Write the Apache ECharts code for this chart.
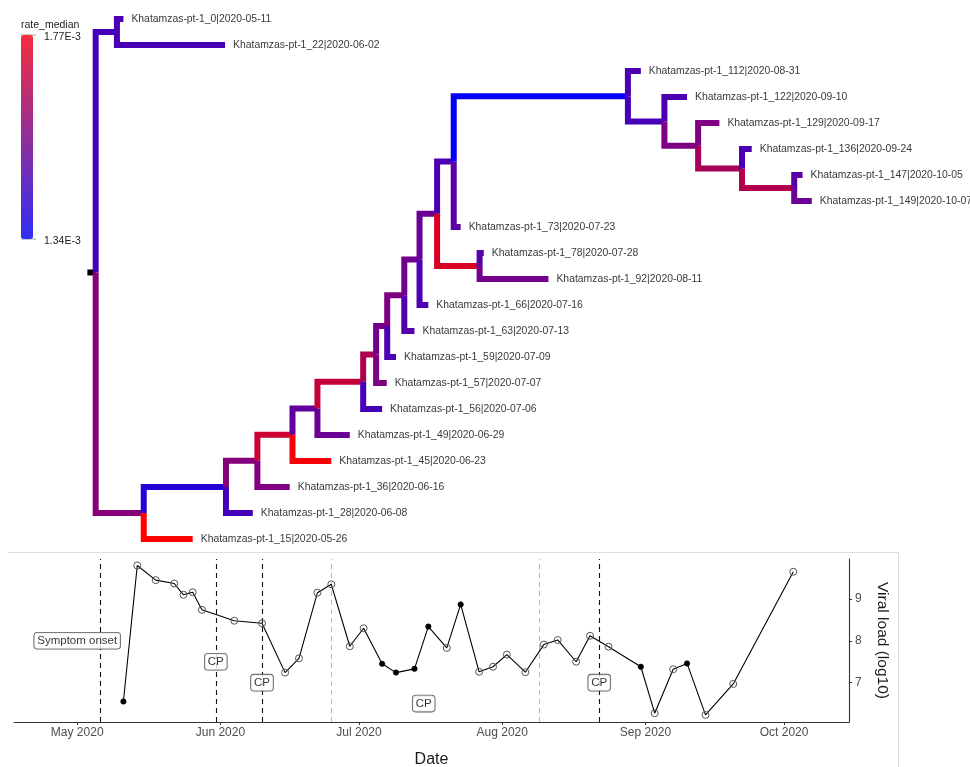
<!DOCTYPE html>
<html><head><meta charset="utf-8">
<script src="https://cdn.jsdelivr.net/npm/echarts@6/dist/echarts.min.js"></script>
<style>html,body{margin:0;padding:0;background:#fff}#c{width:970px;height:767px}</style>
</head><body><div id="c"></div>
<script>
// ---------------- tree data ----------------
// tips, listed top to bottom; days are counted from 2020-05-11
const tipLabels = [
  'Khatamzas-pt-1_0|2020-05-11','Khatamzas-pt-1_22|2020-06-02','Khatamzas-pt-1_112|2020-08-31',
  'Khatamzas-pt-1_122|2020-09-10','Khatamzas-pt-1_129|2020-09-17','Khatamzas-pt-1_136|2020-09-24',
  'Khatamzas-pt-1_147|2020-10-05','Khatamzas-pt-1_149|2020-10-07','Khatamzas-pt-1_73|2020-07-23',
  'Khatamzas-pt-1_78|2020-07-28','Khatamzas-pt-1_92|2020-08-11','Khatamzas-pt-1_66|2020-07-16',
  'Khatamzas-pt-1_63|2020-07-13','Khatamzas-pt-1_59|2020-07-09','Khatamzas-pt-1_57|2020-07-07',
  'Khatamzas-pt-1_56|2020-07-06','Khatamzas-pt-1_49|2020-06-29','Khatamzas-pt-1_45|2020-06-23',
  'Khatamzas-pt-1_36|2020-06-16','Khatamzas-pt-1_28|2020-06-08','Khatamzas-pt-1_15|2020-05-26'];
const tipDays = [0,22,112,122,129,136,147,149,73,78,92,66,63,59,57,56,49,45,36,28,15];
const tipParents = ['A','A','P','Q','R','S','T','T','N','M','M','K','J','I','H','G','F','E','D','C','B'];
const tipRates = [1.469,1.460,1.469,1.469,1.555,1.469,1.491,1.521,1.491,1.482,1.534,1.469,1.482,1.469,1.555,1.460,1.521,1.757,1.555,1.456,1.770];
// internal nodes
const nodeIds     = ['root','A','B','C','D','E','F','G','H','I','J','K','L','N','M','P','Q','R','S','T'];
const nodeDays    = [-6.0,-1.4,4.4,22.2,29.0,36.6,42.0,51.9,54.7,57.1,60.8,64.1,67.9,71.5,77.1,109.2,117.1,124.4,133.9,145.2];
const nodeParents = [null,'root','root','B','C','D','E','F','G','H','I','J','K','L','L','N','P','Q','R','S'];
const nodeRates   = [null,1.456,1.568,1.405,1.564,1.684,1.503,1.671,1.632,1.534,1.555,1.534,1.521,1.469,1.706,1.349,1.460,1.555,1.620,1.641];
const rootEdgeDays = 1.8;
const rateMin = 1.34, rateMax = 1.77; // x 1E-3
const rateLegendTitle = 'rate_median';
const rateLegendLabels = ['1.77E-3','1.34E-3'];

// ---------------- viral load data ----------------
const loadDates = ['2020-05-11','2020-05-14','2020-05-18','2020-05-22','2020-05-24','2020-05-26','2020-05-28',
  '2020-06-04','2020-06-10','2020-06-15','2020-06-18','2020-06-22','2020-06-25','2020-06-29','2020-07-02',
  '2020-07-06','2020-07-09','2020-07-13','2020-07-16','2020-07-20','2020-07-23','2020-07-27','2020-07-30',
  '2020-08-02','2020-08-06','2020-08-10','2020-08-13','2020-08-17','2020-08-20','2020-08-24','2020-08-31',
  '2020-09-03','2020-09-07','2020-09-10','2020-09-14','2020-09-20','2020-10-03'];
const loadValues = [6.55,9.80,9.45,9.37,9.10,9.16,8.74,8.48,8.42,7.24,7.58,9.15,9.35,7.87,8.30,7.45,7.24,7.33,
  8.34,7.83,8.87,7.26,7.38,7.67,7.25,7.91,8.02,7.50,8.12,7.86,7.38,6.27,7.32,7.46,6.23,6.97,9.65];
const loadSequenced = [1,0,0,0,0,0,0,0,0,0,0,0,0,0,0,1,1,1,1,0,1,0,0,0,0,0,0,0,0,0,1,0,0,1,0,0,0];
const eventDates = ['2020-05-06','2020-05-31','2020-06-10','2020-06-25','2020-08-09','2020-08-22'];
const eventTone  = ['dark','dark','dark','light','light','dark'];
const noteTexts  = ['Symptom onset','CP','CP','CP','CP'];
const noteDates  = ['2020-05-01','2020-05-31','2020-06-10','2020-07-15','2020-08-22'];
const noteValues = [8.0,7.5,7.0,6.5,7.0];
const xTickDates = ['2020-05-01','2020-06-01','2020-07-01','2020-08-01','2020-09-01','2020-10-01'];
const xTickLabels = ['May 2020','Jun 2020','Jul 2020','Aug 2020','Sep 2020','Oct 2020'];
const yTickValues = [7,8,9];

// ---------------- layout ----------------
function ts(s){ const p = s.split('-').map(Number); return Date.UTC(p[0], p[1]-1, p[2]); }
const DAY = 864e5;
const nodes = {};
nodeIds.forEach((id,i)=>{ nodes[id] = {id, x:nodeDays[i], parent:nodeParents[i], rate:nodeRates[i], children:[]}; });
tipLabels.forEach((lab,i)=>{ nodes['tip'+i] = {id:'tip'+i, x:tipDays[i], y:i, parent:tipParents[i], rate:tipRates[i], children:[], label:lab}; });
Object.values(nodes).forEach(n=>{ if(n.parent) nodes[n.parent].children.push(n.id); });
function yOf(id){ const n = nodes[id]; if(n.y === undefined){ const ys = n.children.map(yOf); n.y = ys.reduce((a,b)=>a+b,0)/ys.length; } return n.y; }
yOf('root');
const edgeData = [];
nodeIds.concat(tipLabels.map((_,i)=>'tip'+i)).forEach(id=>{
  const n = nodes[id];
  if(n.parent){ const p = nodes[n.parent]; edgeData.push([p.x, p.y, n.x, n.y, n.rate]); }
});
const root = nodes['root'];
const rootEdge = [[root.x - rootEdgeDays, root.y, root.x, root.y, 0]];
const tipData = tipLabels.map((lab,i)=>[tipDays[i], i, lab]);

const FONT = 'Liberation Sans, Arial, Helvetica, sans-serif';
const xMin = ts('2020-05-01') - 13.68*DAY;
const xMax = xMin + (835/4.62)*DAY;
const xTickTs = xTickDates.map(ts);

function branchItem(params, api){
  const a = api.coord([api.value(0), api.value(1)]);
  const b = api.coord([api.value(0), api.value(3)]);
  const c = api.coord([api.value(2), api.value(3)]);
  return {type:'polyline', shape:{points:[a,b,c]},
    style:{stroke: api.visual('color'), lineWidth:6, fill:null, lineJoin:'miter', lineCap:'butt'}};
}

const chart = echarts.init(document.getElementById('c'), null, {renderer:'canvas'});
chart.setOption({
  animation:false,
  backgroundColor:'#fff',
  textStyle:{fontFamily:FONT},
  grid:[
    {left:31, right:15, top:6, height:546, outerBoundsMode:'none'},
    {left:14, right:121, top:559, bottom:45, outerBoundsMode:'none', containLabel:false}
  ],
  xAxis:[
    {gridIndex:0, type:'value', min:-20, max:180, show:false},
    {gridIndex:1, type:'value', min:xMin, max:xMax, scale:true,
      axisLine:{show:true, onZero:false, lineStyle:{color:'#333', width:1.1}},
      axisTick:{show:true, length:3, lineStyle:{color:'#333'}, customValues:xTickTs},
      axisLabel:{color:'#4D4D4D', fontSize:12, margin:5, customValues:xTickTs,
        formatter:(v)=>{ const k = xTickTs.findIndex(t=>Math.abs(t-v)<DAY/2); return k>=0 ? xTickLabels[k] : ''; }},
      splitLine:{show:false},
      name:'Date', nameLocation:'middle', nameGap:30,
      nameTextStyle:{fontSize:16, color:'#1a1a1a', fontFamily:FONT}}
  ],
  yAxis:[
    {gridIndex:0, type:'value', min:-0.5, max:20.5, inverse:true, show:false},
    {gridIndex:1, type:'value', position:'right', min:6.06, max:9.955,
      axisLine:{show:true, onZero:false, lineStyle:{color:'#333', width:1.1}},
      axisTick:{show:true, length:3, lineStyle:{color:'#333'}, customValues:yTickValues},
      axisLabel:{color:'#4D4D4D', fontSize:12, margin:6, customValues:yTickValues},
      splitLine:{show:false},
      name:'Viral load (log10)', nameLocation:'middle', nameRotate:-90, nameGap:25,
      nameTextStyle:{fontSize:15.5, color:'#1a1a1a', fontFamily:FONT}}
  ],
  visualMap:[{
    type:'continuous', min:rateMin, max:rateMax, dimension:4, seriesIndex:1,
    inRange:{color:['#0000FF','#FF0000']},
    controller:{inRange:{color:['#2E2EF5','#F52E3E']}},
    calculable:false, hoverLink:false,
    left:21, top:35, itemWidth:12, itemHeight:204, padding:0, text:null
  }],
  graphic:[
    {type:'text', left:21, top:20, style:{text:rateLegendTitle, font:'10.5px '+FONT, fill:'#222'}},
    {type:'text', left:44, top:32, style:{text:rateLegendLabels[0], font:'10.5px '+FONT, fill:'#222'}},
    {type:'text', left:44, top:236, style:{text:rateLegendLabels[1], font:'10.5px '+FONT, fill:'#222'}},
    {type:'line', shape:{x1:21, y1:35, x2:36, y2:35}, style:{stroke:'#999', lineWidth:1}},
    {type:'line', shape:{x1:21, y1:239, x2:36, y2:239}, style:{stroke:'#999', lineWidth:1}},
    {type:'line', shape:{x1:8, y1:552.5, x2:898, y2:552.5}, style:{stroke:'#DDDDDD', lineWidth:1}},
    {type:'line', shape:{x1:898.5, y1:552, x2:898.5, y2:767}, style:{stroke:'#DDDDDD', lineWidth:1}}
  ],
  series:[
    {type:'custom', xAxisIndex:0, yAxisIndex:0, data:rootEdge, silent:true, z:1,
      renderItem:(p,api)=>{ const a = api.coord([api.value(0), api.value(1)]); const b = api.coord([api.value(2), api.value(3)]);
        return {type:'line', shape:{x1:a[0], y1:a[1], x2:b[0], y2:b[1]}, style:{stroke:'#000', lineWidth:6, lineCap:'butt'}}; }},
    {type:'custom', xAxisIndex:0, yAxisIndex:0, data:edgeData, silent:true, z:2,
      encode:{x:[0,2], y:[1,3]},
      renderItem:(p,api)=>branchItem(p,api)},
    {type:'scatter', xAxisIndex:0, yAxisIndex:0, data:tipData, symbolSize:0, silent:true, z:3,
      label:{show:true, position:'right', distance:8, formatter:(p)=>p.value[2],
        fontSize:10.4, color:'#000', fontFamily:FONT}},
    {type:'line', xAxisIndex:1, yAxisIndex:1, z:5,
      data: loadDates.map((d,i)=>({value:[ts(d), loadValues[i]],
        symbolSize: loadSequenced[i] ? 5.5 : 7,
        itemStyle: loadSequenced[i] ? {color:'#000', borderColor:'#000', borderWidth:0.5}
                                    : {color:'rgba(255,255,255,0)', borderColor:'#555', borderWidth:1}})),
      symbol:'circle', showAllSymbol:true, silent:true,
      lineStyle:{color:'#000', width:1.1},
      markLine:{silent:true, symbol:'none', label:{show:false},
        data: eventDates.map((d,i)=>({xAxis:ts(d), lineStyle:{color: eventTone[i]==='dark' ? '#111' : '#BBBBBB', type:[5,4], width:1.1}}))}},
    {type:'scatter', xAxisIndex:1, yAxisIndex:1, z:10, silent:true, symbolSize:0,
      data: noteDates.map((d,i)=>[ts(d), noteValues[i], noteTexts[i]]),
      label:{show:true, position:'inside', formatter:(p)=>p.value[2], fontSize:11.5, color:'#000', fontFamily:FONT,
        backgroundColor:'#fff', borderColor:'#333', borderWidth:0.8, borderRadius:3, padding:[2,3,1,3], lineHeight:13}}
  ]
});
</script>
</body></html>
